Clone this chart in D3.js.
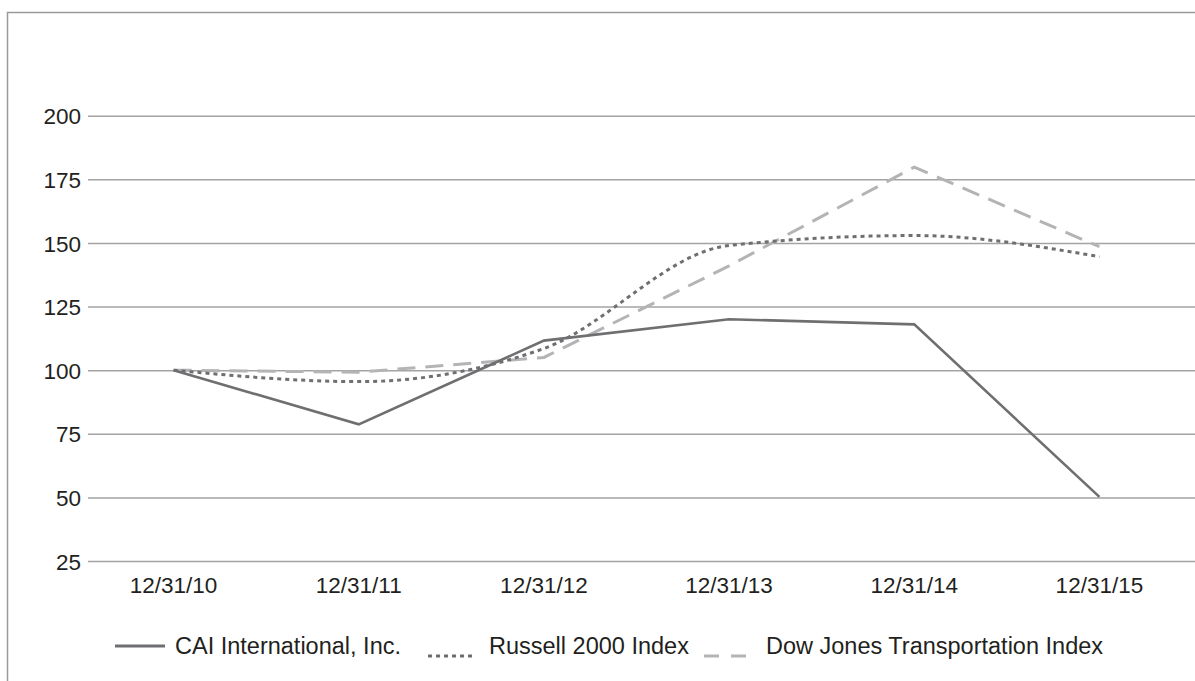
<!DOCTYPE html>
<html>
<head>
<meta charset="utf-8">
<script src="https://cdn.jsdelivr.net/npm/d3@7"></script>
<style>
  body { margin: 0; background: #fff; }
  svg { display: block; font-family: 'Liberation Sans', Arial, Helvetica, sans-serif; }
</style>
</head>
<body>
<script>
// chart data
let dates   = ['12/31/10', '12/31/11', '12/31/12', '12/31/13', '12/31/14', '12/31/15'];
let cai     = [100, 78.7, 111.6, 120.0, 118.0, 50.2];
let russell = [100, 95.5, 108.5, 149.0, 152.9, 144.6];
let dowJones = [100, 99.2, 105.0, 141.0, 179.8, 148.5];
let yTicks  = [25, 50, 75, 100, 125, 150, 175, 200];
let seriesNames = ['CAI International, Inc.', 'Russell 2000 Index', 'Dow Jones Transportation Index'];

let width = 1195, height = 681;
let textColor = '#231f20';

let svg = d3.select('body').append('svg')
  .attr('width', width)
  .attr('height', height);

// outer frame (top and left edges only show)
svg.append('path')
  .attr('d', 'M7.5,' + height + 'V12.5H' + width)
  .attr('fill', 'none')
  .attr('stroke', '#9a9a9a')
  .attr('stroke-width', 1.5);

let x = d3.scaleBand().domain(dates).range([81, 1192]);
let y = d3.scaleLinear().domain([25, 200]).range([561, 115.7]);
let cx = d => x(d) + x.bandwidth() / 2;

// gridlines + y labels
let yAxis = d3.axisLeft(y).tickValues(yTicks).tickSize(-(width - 88)).tickPadding(7);
let gy = svg.append('g').attr('transform', 'translate(88,0)').call(yAxis);
gy.select('.domain').remove();
gy.selectAll('.tick line').attr('stroke', '#a3a3a3').attr('stroke-width', 1.5);
gy.selectAll('.tick text')
  .attr('fill', textColor)
  .style('font-size', '22.5px')
  .attr('dy', '0.36em');

// x labels
let xAxis = d3.axisBottom(x).tickSize(0).tickPadding(0);
let gx = svg.append('g').attr('transform', 'translate(0,576)').call(xAxis);
gx.select('.domain').remove();
gx.selectAll('.tick text')
  .attr('fill', textColor)
  .style('font-size', '22.5px')
  .attr('dy', '0.75em');

// series
let series = [
  { name: seriesNames[0], values: cai,      color: '#6f6f72', width: 2.6, dash: null,    curve: d3.curveLinear },
  { name: seriesNames[1], values: russell,  color: '#6f6f72', width: 3,   dash: '4,4',   curve: d3.curveMonotoneX },
  { name: seriesNames[2], values: dowJones, color: '#b4b4b6', width: 3,   dash: '18,10', curve: d3.curveLinear }
];

series.slice().reverse().forEach(s => {
  let line = d3.line()
    .x((d, i) => cx(dates[i]))
    .y(d => y(d))
    .curve(s.curve);
  svg.append('path')
    .datum(s.values)
    .attr('d', line)
    .attr('fill', 'none')
    .attr('stroke', s.color)
    .attr('stroke-width', s.width)
    .attr('stroke-dasharray', s.dash);
});

// legend
let legendItems = [
  { s: series[0], x1: 115, x2: 165, ly: 646, tx: 175, dash: null },
  { s: series[1], x1: 428, x2: 476, ly: 656, tx: 489, dash: '4,4' },
  { s: series[2], x1: 704, x2: 747, ly: 656, tx: 766, dash: '15,12' }
];

let legend = svg.append('g')
  .selectAll('g')
  .data(legendItems)
  .enter().append('g');

legend.append('line')
  .attr('x1', d => d.x1)
  .attr('x2', d => d.x2)
  .attr('y1', d => d.ly)
  .attr('y2', d => d.ly)
  .attr('stroke', d => d.s.color)
  .attr('stroke-width', 3)
  .attr('stroke-dasharray', d => d.dash);

legend.append('text')
  .attr('x', d => d.tx)
  .attr('y', 654)
  .attr('fill', textColor)
  .style('font-size', '23.5px')
  .text(d => d.s.name);
</script>
</body>
</html>
